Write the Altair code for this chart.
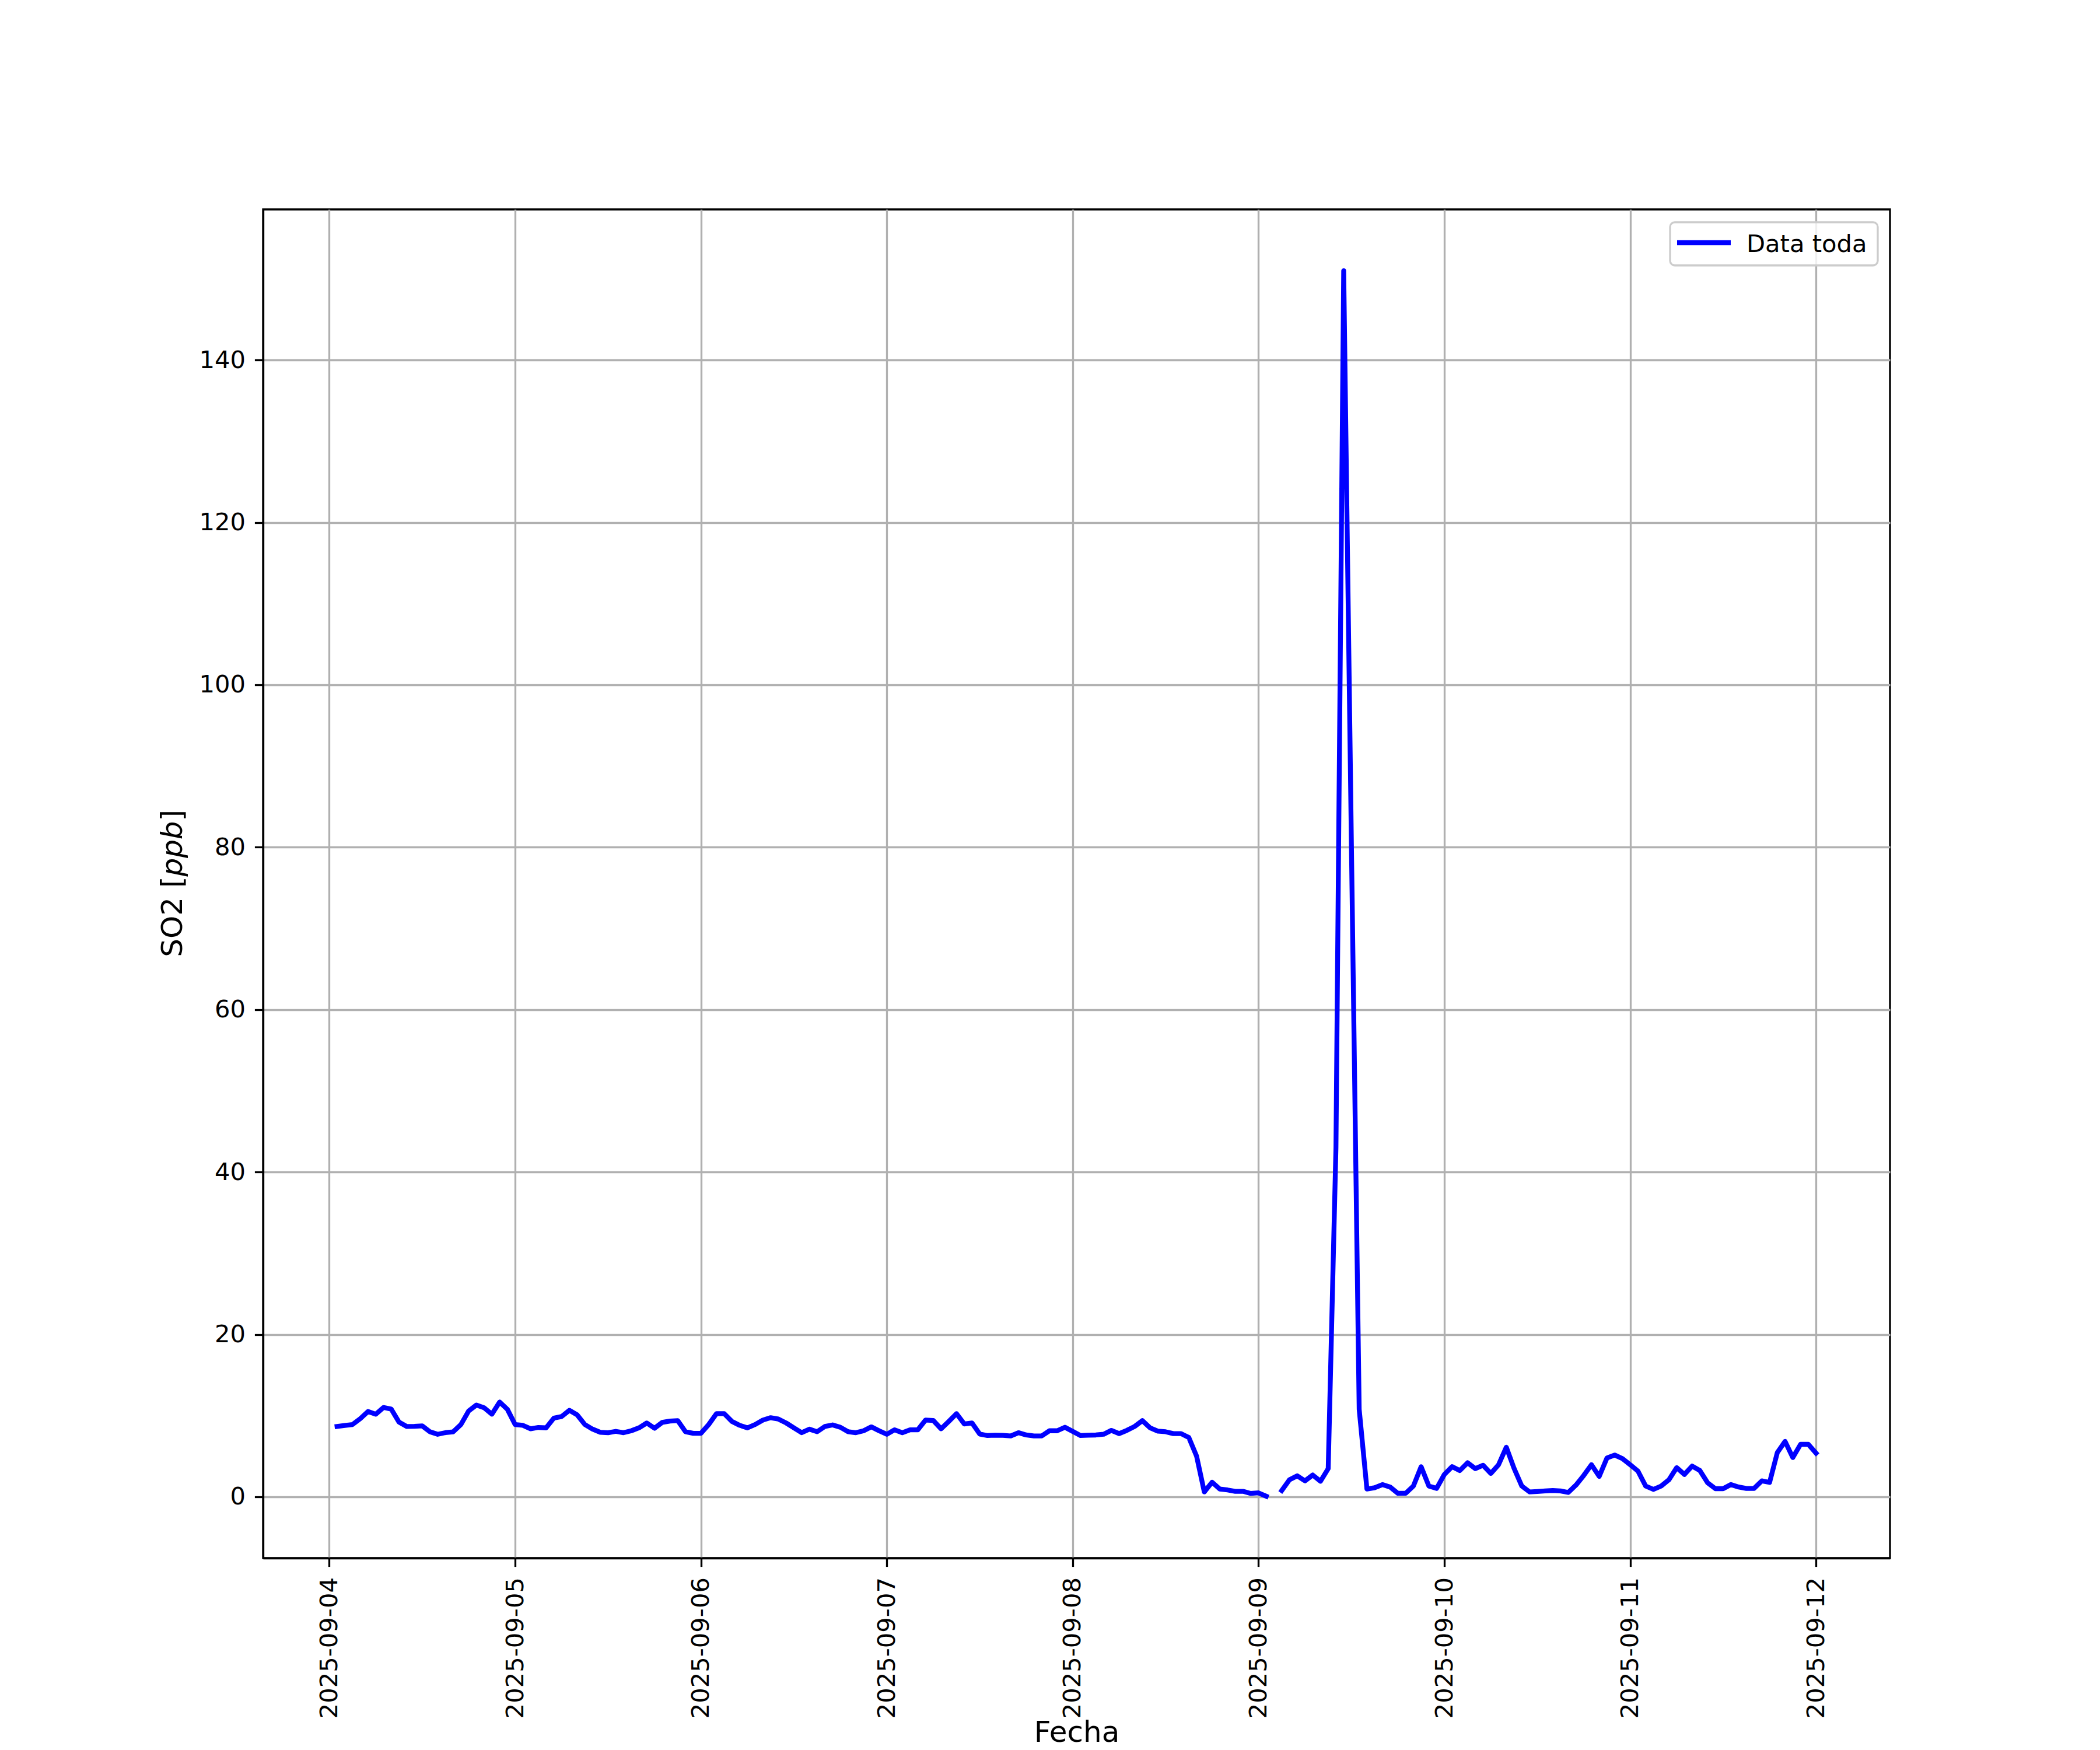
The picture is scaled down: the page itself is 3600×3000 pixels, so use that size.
import altair as alt
import pandas as pd

# ---------------- data ----------------
start_time = "2025-09-04 01:00"   # hourly series
so2_ppb = [
    8.66, 8.78, 8.9, 9.62, 10.5, 10.17, 11.0, 10.8, 9.2, 8.66, 8.68, 8.73,
    8.0, 7.7, 7.9, 8.0, 8.9, 10.57, 11.3, 10.96, 10.17, 11.67, 10.77, 8.9,
    8.8, 8.37, 8.54, 8.49, 9.69, 9.88, 10.65, 10.1, 8.9, 8.33, 7.94, 7.89,
    8.06, 7.89, 8.13, 8.49, 9.09, 8.44, 9.16, 9.33, 9.38, 8.01, 7.82, 7.82,
    8.9, 10.24, 10.24, 9.28, 8.8, 8.49, 8.9, 9.45, 9.74, 9.57, 9.09, 8.49,
    7.89, 8.33, 8.01, 8.66, 8.85, 8.56, 8.01, 7.89, 8.13, 8.61, 8.13, 7.7,
    8.25, 7.89, 8.25, 8.25, 9.45, 9.4, 8.37, 9.28, 10.24, 8.97, 9.09, 7.73,
    7.54, 7.58, 7.56, 7.49, 7.89, 7.61, 7.49, 7.49, 8.13, 8.13, 8.56, 8.06,
    7.54, 7.58, 7.61, 7.7, 8.18, 7.78, 8.18, 8.66, 9.38, 8.49, 8.09, 8.01,
    7.78, 7.78, 7.3, 5.02, 0.6, 1.79, 0.96, 0.84, 0.67, 0.67, 0.41, 0.48,
    0.07, None, 0.77, 2.1, 2.58, 1.96, 2.68, 1.91, 3.47, 43.0, 151.0, 80.0,
    10.77, 0.96, 1.12, 1.5, 1.2, 0.43, 0.43, 1.32, 3.7, 1.32, 1.03, 2.75,
    3.71, 3.23, 4.19, 3.47, 3.88, 2.87, 3.95, 6.1, 3.5, 1.32, 0.6, 0.65,
    0.72, 0.77, 0.72, 0.53, 1.44, 2.63, 3.95, 2.51, 4.78, 5.14, 4.7, 3.95,
    3.16, 1.32, 0.91, 1.32, 2.1, 3.59, 2.75, 3.78, 3.23, 1.72, 1.0, 1.0,
    1.5, 1.2, 1.03, 1.03, 1.96, 1.77, 5.45, 6.82, 4.83, 6.46, 6.46, 5.38,
]
series_label = "Data toda"
x_title = "Fecha"
y_title_parts = ["SO2 [", "ppb", "]"]
y_tick_values = [0, 20, 40, 60, 80, 100, 120, 140]
x_tick_days = [4, 5, 6, 7, 8, 9, 10, 11, 12]

# ---------------- build table ----------------
times = pd.date_range(start_time, periods=len(so2_ppb), freq="h")
segments, s = [], 0
for v in so2_ppb:
    if v is None:
        s += 1
    segments.append(s)
df = pd.DataFrame({"Fecha": times,
                   "SO2": [float("nan") if v is None else v for v in so2_ppb],
                   "seg": segments})
df = df.dropna(subset=["SO2"]).reset_index(drop=True)
df["serie"] = series_label

# ---------------- layout constants ----------------
W, H = 2789, 2312
FONT = "DejaVu Sans"
LW = 3.3          # spine / grid width
TICK_FS = 41.67
LABEL_FS = 50

x_enc = alt.X(
    "Fecha:T",
    scale=alt.Scale(
        domain=[alt.DateTime(year=2025, month=9, date=3, hours=15, minutes=27),
                alt.DateTime(year=2025, month=9, date=12, hours=9, minutes=33)],
        nice=False),
    axis=alt.Axis(values=[alt.DateTime(year=2025, month=9, date=d) for d in x_tick_days],
                  format="%Y-%m-%d", labelAngle=270, labelPadding=18,
                  labelFlush=False, labelOverlap=False, labelLimit=0,
                  title=x_title, titleBaseline="alphabetic", titleY=314),
)
y_enc = alt.Y(
    "SO2:Q",
    scale=alt.Scale(domain=[-7.55, 158.55], nice=False, zero=False),
    axis=alt.Axis(values=y_tick_values, labelPadding=16, title=None),
)

line = alt.Chart(df).mark_line(
    strokeWidth=8.3, strokeCap="square", strokeJoin="round"
).encode(
    x=x_enc,
    y=y_enc,
    color=alt.Color("serie:N", scale=alt.Scale(range=["#0000ff"]), legend=None),
    detail="seg:N",
)

one = pd.DataFrame({"k": [0]})

# y-axis title with italic "ppb" (as in matplotlib mathtext)
yt1 = alt.Chart(one).mark_text(angle=270, align="right", baseline="alphabetic",
                               font=FONT, fontSize=LABEL_FS, color="black").encode(
    x=alt.value(-139.3), y=alt.value(1143.5), text=alt.value(y_title_parts[0]))
yt2 = alt.Chart(one).mark_text(angle=270, align="center", baseline="alphabetic",
                               font=FONT, fontSize=LABEL_FS, fontStyle="italic",
                               color="black").encode(
    x=alt.value(-139.3), y=alt.value(1096), text=alt.value(y_title_parts[1]))
yt3 = alt.Chart(one).mark_text(angle=270, align="left", baseline="alphabetic",
                               font=FONT, fontSize=LABEL_FS, color="black").encode(
    x=alt.value(-139.3), y=alt.value(1048.5), text=alt.value(y_title_parts[2]))

# legend (upper right, matplotlib style)
leg_box = alt.Chart(one).mark_rect(
    fill="white", fillOpacity=0.8, stroke="#cccccc", strokeWidth=LW, cornerRadius=8
).encode(x=alt.value(2412), x2=alt.value(2768), y=alt.value(22), y2=alt.value(96))
leg_line = alt.Chart(one).mark_rule(color="#0000ff", strokeWidth=8.3).encode(
    x=alt.value(2424), x2=alt.value(2516), y=alt.value(57))
leg_text = alt.Chart(one).mark_text(align="left", baseline="alphabetic", font=FONT,
                                    fontSize=TICK_FS, color="black").encode(
    x=alt.value(2543), y=alt.value(72.7), text=alt.value(series_label))

chart = alt.layer(line, yt1, yt2, yt3, leg_box, leg_line, leg_text).properties(
    width=W, height=H,
    autosize=alt.AutoSizeParams(type="none"),
    padding={"left": 443, "top": 351, "right": 352, "bottom": 328},
    background="white",
).configure_view(
    stroke="black", strokeWidth=LW
).configure_axis(
    domainColor="black", domainWidth=LW,
    tickColor="black", tickWidth=LW, tickSize=14.6,
    labelFont=FONT, labelFontSize=TICK_FS, labelColor="black", labelLimit=0,
    titleFont=FONT, titleFontSize=LABEL_FS, titleFontWeight="normal", titleColor="black",
    gridColor="#b0b0b0", gridWidth=LW, gridOpacity=1,
)

chart.save("out.html", embed_options={"renderer": "svg", "actions": False})
